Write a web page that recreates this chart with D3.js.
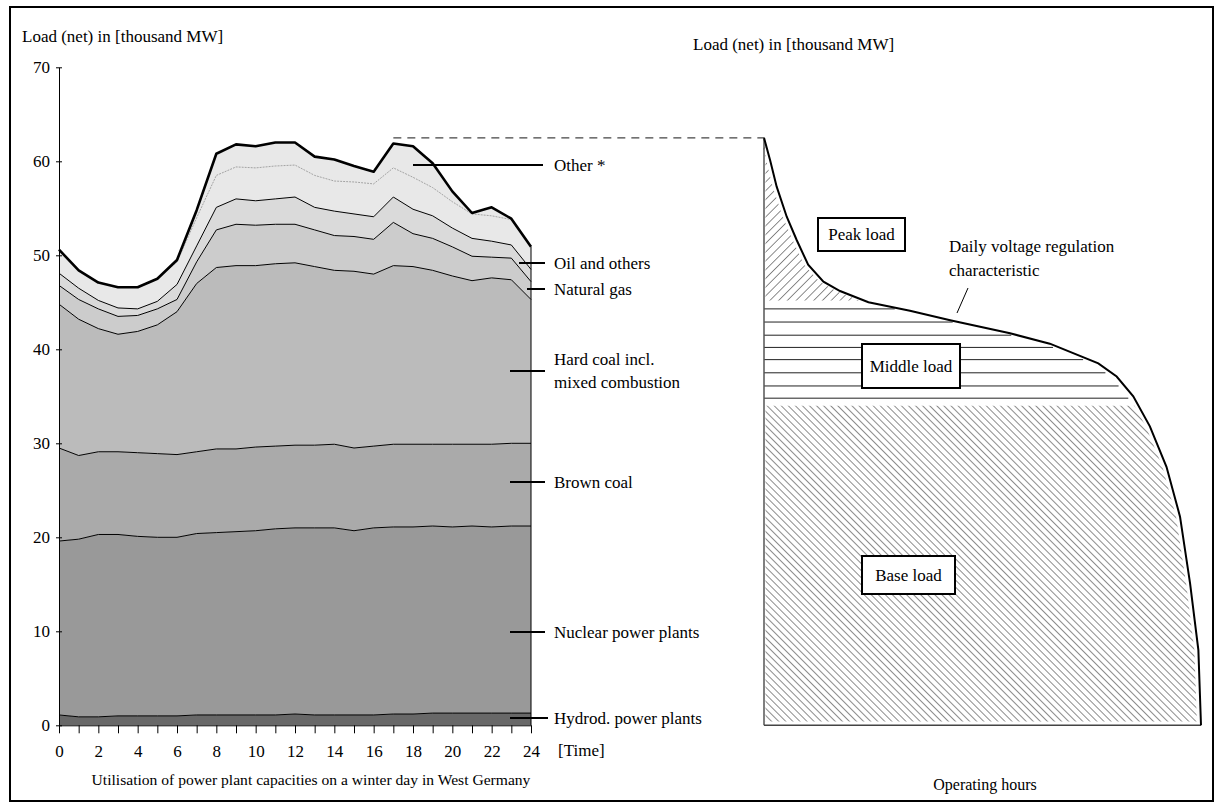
<!DOCTYPE html>
<html>
<head>
<meta charset="utf-8">
<script src="https://cdn.jsdelivr.net/npm/d3@7"></script>
<style>
  body { margin: 0; background: #fff; }
  svg text { font-family: "Liberation Serif", "Times New Roman", serif; font-size: 17px; fill: #000; }
</style>
</head>
<body>
<svg id="chart" width="1215" height="803"></svg>
<script>
// hours of the day
var hours = [0,1,2,3,4,5,6,7,8,9,10,11,12,13,14,15,16,17,18,19,20,21,22,23,24];
var loadTicks = [0,10,20,30,40,50,60,70];

// stacked layers, thousand MW per hour
var hydro      = [1.1,0.9,0.9,1.0,1.0,1.0,1.0,1.1,1.1,1.1,1.1,1.1,1.2,1.1,1.1,1.1,1.1,1.2,1.2,1.3,1.3,1.3,1.3,1.3,1.3];
var nuclear    = [18.5,18.9,19.4,19.3,19.1,19.0,19.0,19.3,19.4,19.5,19.6,19.8,19.8,19.9,19.9,19.6,19.9,19.9,19.9,19.9,19.8,19.9,19.8,19.9,19.9];
var brownCoal  = [9.9,8.9,8.8,8.8,8.9,8.9,8.8,8.7,8.9,8.8,8.9,8.8,8.8,8.8,8.9,8.8,8.7,8.8,8.8,8.7,8.8,8.7,8.8,8.8,8.8];
var hardCoal   = [15.3,14.5,13.1,12.5,12.9,13.7,15.2,17.9,19.3,19.5,19.3,19.4,19.4,19.0,18.5,18.8,18.3,19.0,18.9,18.5,17.9,17.4,17.7,17.4,15.3];
var naturalGas = [2.0,2.1,2.1,1.9,1.7,1.7,1.3,2.3,4.0,4.4,4.3,4.2,4.1,3.9,3.7,3.7,3.7,4.6,3.5,3.4,3.1,2.6,2.2,2.3,1.9];
var oil        = [1.3,1.2,0.9,0.9,0.7,0.8,1.6,1.7,2.4,2.7,2.6,2.7,2.9,2.4,2.6,2.4,2.4,2.7,2.6,2.4,2.0,1.9,1.7,1.4,1.3];
var otherLower = [2.5,1.9,1.9,2.2,2.3,2.4,2.4,3.0,3.4,3.4,3.5,3.5,3.4,3.4,3.2,3.4,3.5,3.1,3.4,3.0,2.8,2.6,2.7,2.7,2.4];
var otherUpper = [0,0,0,0,0,0,0.2,0.8,2.3,2.4,2.3,2.5,2.4,2.0,2.3,1.7,1.3,2.6,3.3,2.6,1.1,0.1,0.9,0.1,0];

var layerKeys   = ["hydro","nuclear","brownCoal","hardCoal","naturalGas","oil","otherLower","otherUpper"];
var layerFills  = ["#686868","#999999","#aaaaaa","#bbbbbb","#cccccc","#dadada","#e8e8e8","#e8e8e8"];

// daily load duration curve (share of hours in %, load)
var durationShare = [0,1.4,2.9,5.2,7.5,10.1,13.6,17.4,23.9,33.4,42.6,56.3,65.4,76.5,80.7,84.5,88.3,92.1,95.2,97.5,99.4,100];
var durationLoad  = [62.5,60.1,57.3,54.1,51.6,49.0,47.2,46.2,45.0,44.1,43.1,41.7,40.6,38.5,37.1,35.0,31.8,27.5,22.2,15.1,8.0,0];
var peakFloor = 45.2;
var middleLines = [44.3,42.9,41.5,40.2,38.9,37.5,36.1,34.8];
var baseTop = 34.0;

var svg = d3.select("#chart");

// frame
svg.append("rect")
    .attr("x", 10).attr("y", 7)
    .attr("width", 1203).attr("height", 794)
    .attr("fill", "none").attr("stroke", "#000").attr("stroke-width", 2);

// scales
var x = d3.scaleLinear().domain([0, 24]).range([59, 531]);
var y = d3.scaleLinear().domain([0, 70]).range([725.3, 67.3]);
var xr = d3.scaleLinear().domain([0, 100]).range([764, 1201]);

// build rows for the stack
var rows = hours.map(function (h, i) {
    return {
        hour: h, hydro: hydro[i], nuclear: nuclear[i], brownCoal: brownCoal[i],
        hardCoal: hardCoal[i], naturalGas: naturalGas[i], oil: oil[i],
        otherLower: otherLower[i], otherUpper: otherUpper[i]
    };
});
var series = d3.stack().keys(layerKeys)(rows);

var area = d3.area()
    .x(function (d) { return x(d.data.hour); })
    .y0(function (d) { return y(d[0]); })
    .y1(function (d) { return y(d[1]); });
var topLine = d3.line()
    .x(function (d) { return x(d.data.hour); })
    .y(function (d) { return y(d[1]); });

var g = svg.append("g");
g.selectAll("path.layer")
    .data(series)
  .enter().append("path")
    .attr("class", "layer")
    .attr("d", area)
    .attr("fill", function (d, i) { return layerFills[i]; })
    .attr("stroke", "none");

// boundaries
g.selectAll("path.edge")
    .data(series)
  .enter().append("path")
    .attr("class", "edge")
    .attr("d", topLine)
    .attr("fill", "none")
    .attr("stroke", function (d, i) {
        if (i == 6) return "#9a9a9a";
        return "#000";
    })
    .attr("stroke-width", function (d, i) {
        if (i == 7) return 2.6;
        if (i == 6) return 0.9;
        return 1;
    })
    .attr("stroke-dasharray", function (d, i) { return i == 6 ? "2,1" : null; })
    .attr("stroke-linejoin", "round");

// right edge of the stack
var last = series[series.length - 1][hours.length - 1];
g.append("line")
    .attr("x1", x(24)).attr("x2", x(24))
    .attr("y1", y(0)).attr("y2", y(last[1]))
    .attr("stroke", "#000").attr("stroke-width", 1);

// axes
var yAxis = svg.append("g")
    .attr("transform", "translate(" + x(0) + ",0)")
    .call(d3.axisLeft(y).tickValues(loadTicks).tickSize(3).tickSizeOuter(0).tickPadding(6));
yAxis.selectAll(".tick line").attr("x1", 3);
yAxis.selectAll("text").style("font-size", "17px").style("font-family", "Liberation Serif");

var xAxis = svg.append("g")
    .attr("transform", "translate(0," + y(0) + ")")
    .call(d3.axisBottom(x).tickValues(hours).tickSize(8).tickSizeOuter(0).tickPadding(12)
        .tickFormat(function (d) { return d % 2 === 0 ? d : ""; }));
xAxis.selectAll("text").style("font-size", "17px").style("font-family", "Liberation Serif");

svg.append("text").attr("x", 22).attr("y", 42).text("Load (net) in [thousand MW]");
svg.append("text").attr("x", 558).attr("y", 756).text("[Time]");
svg.append("text").attr("x", 311).attr("y", 785).attr("text-anchor", "middle")
    .style("font-size", "15.6px")
    .text("Utilisation of power plant capacities on a winter day in West Germany");

// layer labels with pointer lines
var labels = [
    { lines: ["Other *"], y: 165, x1: 413, x2: 543 },
    { lines: ["Oil and others"], y: 263, x1: 519, x2: 545 },
    { lines: ["Natural gas"], y: 289, x1: 527, x2: 545 },
    { lines: ["Hard coal incl.", "mixed combustion"], y: 371, x1: 510, x2: 545 },
    { lines: ["Brown coal"], y: 482, x1: 510, x2: 545 },
    { lines: ["Nuclear power plants"], y: 632, x1: 510, x2: 545 },
    { lines: ["Hydrod. power plants"], y: 718, x1: 510, x2: 548 }
];
labels.forEach(function (l) {
    svg.append("line")
        .attr("x1", l.x1).attr("x2", l.x2).attr("y1", l.y).attr("y2", l.y)
        .attr("stroke", "#000").attr("stroke-width", 2);
    var t = svg.append("text").attr("x", 554).attr("y", l.y - (l.lines.length - 1) * 12).attr("dy", "0.33em");
    l.lines.forEach(function (s, k) {
        t.append("tspan").attr("x", 554).attr("dy", k == 0 ? "0.33em" : "1.4em").text(s);
    });
});

// ---------- right chart: load duration curve ----------
var curvePts = durationShare.map(function (s, i) { return [s, durationLoad[i]]; });
// x position on the curve for a given load
function curveAt(load) {
    for (var i = 1; i < curvePts.length; i++) {
        var a = curvePts[i - 1], b = curvePts[i];
        if (load <= a[1] && load >= b[1]) {
            var t = (a[1] - load) / (a[1] - b[1]);
            return a[0] + t * (b[0] - a[0]);
        }
    }
    return 0;
}

var defs = svg.append("defs");
var p1 = defs.append("pattern").attr("id", "fwd").attr("patternUnits", "userSpaceOnUse")
    .attr("width", 6.2).attr("height", 6.2).attr("patternTransform", "rotate(45)");
p1.append("line").attr("x1", 0).attr("x2", 0).attr("y1", 0).attr("y2", 6.2)
    .attr("stroke", "#000").attr("stroke-width", 0.9);
var p2 = defs.append("pattern").attr("id", "back").attr("patternUnits", "userSpaceOnUse")
    .attr("width", 5).attr("height", 5).attr("patternTransform", "rotate(-45)");
p2.append("line").attr("x1", 0).attr("x2", 0).attr("y1", 0).attr("y2", 5)
    .attr("stroke", "#000").attr("stroke-width", 0.9);

// region under the curve between two load levels
function regionPath(lo, hi, inset) {
    var pts = [[xr(0) + 1.5, y(hi)]];
    curvePts.forEach(function (p) {
        if (p[1] <= hi && p[1] >= lo) pts.push([xr(p[0]) - inset, y(p[1])]);
    });
    pts.splice(1, 0, [xr(curveAt(hi)) - inset, y(hi)]);
    pts.push([xr(curveAt(lo)) - inset, y(lo)]);
    pts.push([xr(0) + 1.5, y(lo)]);
    return d3.line()(pts) + "Z";
}

svg.append("path").attr("d", regionPath(peakFloor, durationLoad[0] - 0.8, 4))
    .attr("fill", "url(#fwd)");
svg.append("path").attr("d", regionPath(0.4, baseTop, 4))
    .attr("fill", "url(#back)");

svg.selectAll("line.mid")
    .data(middleLines)
  .enter().append("line")
    .attr("class", "mid")
    .attr("x1", xr(0)).attr("x2", function (d) { return xr(curveAt(d)) - 6; })
    .attr("y1", function (d) { return y(d); }).attr("y2", function (d) { return y(d); })
    .attr("stroke", "#222").attr("stroke-width", 1);

// axes of the duration chart
svg.append("line").attr("x1", xr(0)).attr("x2", xr(0)).attr("y1", y(durationLoad[0])).attr("y2", y(0))
    .attr("stroke", "#555").attr("stroke-width", 1.5);
svg.append("line").attr("x1", xr(0)).attr("x2", xr(100)).attr("y1", y(0)).attr("y2", y(0))
    .attr("stroke", "#444").attr("stroke-width", 1.5);

svg.append("path")
    .datum(curvePts)
    .attr("d", d3.line().x(function (d) { return xr(d[0]); }).y(function (d) { return y(d[1]); }))
    .attr("fill", "none").attr("stroke", "#000").attr("stroke-width", 2);

// dashed line linking the daily peak
svg.append("line")
    .attr("x1", x(17)).attr("x2", xr(0))
    .attr("y1", y(durationLoad[0])).attr("y2", y(durationLoad[0]))
    .attr("stroke", "#444").attr("stroke-width", 1.2).attr("stroke-dasharray", "8,6");

svg.append("text").attr("x", 693).attr("y", 50).text("Load (net) in [thousand MW]");
svg.append("text").attr("x", 985).attr("y", 790).attr("text-anchor", "middle")
    .style("font-size", "16px").text("Operating hours");

// boxed labels
var boxes = [
    { text: "Peak load", x: 818, y: 218, w: 87, h: 33 },
    { text: "Middle load", x: 862, y: 344, w: 98, h: 44 },
    { text: "Base load", x: 862, y: 556, w: 93, h: 38 }
];
boxes.forEach(function (b) {
    svg.append("rect").attr("x", b.x).attr("y", b.y).attr("width", b.w).attr("height", b.h)
        .attr("fill", "#fff").attr("stroke", "#000").attr("stroke-width", 2);
    svg.append("text").attr("x", b.x + b.w / 2).attr("y", b.y + b.h / 2).attr("dy", "0.33em")
        .attr("text-anchor", "middle").text(b.text);
});

svg.append("text").attr("x", 949).attr("y", 252).text("Daily voltage regulation");
svg.append("text").attr("x", 949).attr("y", 276).text("characteristic");
svg.append("line").attr("x1", 957).attr("y1", 313).attr("x2", 968).attr("y2", 288)
    .attr("stroke", "#000").attr("stroke-width", 1);
</script>
</body>
</html>
